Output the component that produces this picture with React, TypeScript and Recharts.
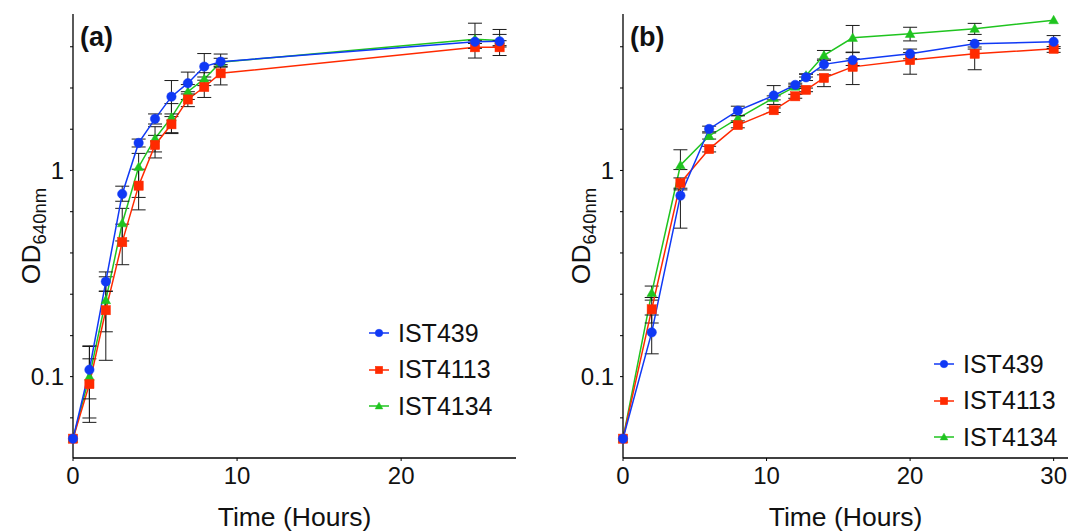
import React from 'react';
import { LineChart, Line, XAxis, YAxis, ErrorBar, Legend } from 'recharts';

const FONT = '"Liberation Sans", Arial, Helvetica, sans-serif';
const BLUE = '#1039f5';
const RED = '#ff2a00';
const GREEN = '#1fc41f';

// ---------- Panel (a) ----------
const timesA = [0, 1, 2, 3, 4, 5, 6, 7, 8, 9, 24.5, 26];
const ist439A = [0.05, 0.108, 0.289, 0.769, 1.36, 1.78, 2.28, 2.65, 3.19, 3.37, 4.21, 4.23];
const ist4113A = [0.05, 0.092, 0.21, 0.449, 0.844, 1.33, 1.675, 2.21, 2.54, 2.96, 3.96, 3.96];
const ist4134A = [0.05, 0.1, 0.235, 0.555, 1.04, 1.43, 1.81, 2.41, 2.78, 3.35, 4.33, 4.27];
const ist439ErrA: ([number, number] | null)[] = [null, [0.03, 0.033], [0.03, 0.033], [0.06, 0.07], [0.06, 0.06], [0.1, 0.1], [0.4, 0.45], [0.3, 0.35], [0.45, 0.5], [0.2, 0.3], [0.3, 0.35], [0.2, 0.6]];
const ist4113ErrA: ([number, number] | null)[] = [null, [0.029, 0.03], [0.09, 0.05], [0.1, 0.1], [0.2, 0.17], [0.18, 0.15], [0.15, 0.15], [0.17, 0.2], [0.28, 0.3], [0.36, 0.3], [0.45, 0.3], [0.35, 0.3]];
const ist4134ErrA: ([number, number] | null)[] = [null, [0.04, 0.04], [0.07, 0.07], [0.1, 0.1], [0.3, 0.17], [0.2, 0.2], [0.3, 0.3], [0.2, 0.2], [0.2, 0.2], [0.15, 0.15], [0.2, 0.85], [0.3, 0.3]];

// ---------- Panel (b) ----------
const timesB = [0, 2, 4, 6, 8, 10.5, 12, 12.75, 14, 16, 20, 24.5, 30];
const ist439B = [0.05, 0.164, 0.755, 1.59, 1.95, 2.31, 2.6, 2.83, 3.27, 3.43, 3.68, 4.12, 4.21];
const ist4113B = [0.05, 0.212, 0.87, 1.27, 1.66, 1.96, 2.29, 2.46, 2.81, 3.18, 3.43, 3.68, 3.89];
const ist4134B = [0.05, 0.255, 1.06, 1.47, 1.79, 2.25, 2.55, 2.89, 3.62, 4.4, 4.6, 4.87, 5.36];
const ist439ErrB: ([number, number] | null)[] = [null, [0.035, 0.035], [0.23, 0.05], [0.05, 0.05], [0.1, 0.1], [0.22, 0.27], [0.05, 0.05], [0.1, 0.1], [0.2, 0.2], [0.2, 0.3], [0.2, 0.2], [0.15, 0.15], [0.3, 0.3]];
const ist4113ErrB: ([number, number] | null)[] = [null, [0.03, 0.03], [0.05, 0.05], [0.04, 0.04], [0.05, 0.05], [0.05, 0.05], [0.05, 0.05], [0.05, 0.05], [0.26, 0.1], [0.57, 0.3], [0.5, 0.3], [0.6, 0.2], [0.15, 0.1]];
const ist4134ErrB: ([number, number] | null)[] = [null, [0.02, 0.02], [0.05, 0.2], [0.05, 0.05], [0.05, 0.05], [0.05, 0.05], [0.05, 0.05], [0.05, 0.05], [0.2, 0.2], [0.65, 0.65], [0.35, 0.35], [0.3, 0.3], null];

// ---------- Axes ----------
const yTicks = [0.0631, 0.1, 0.158, 0.251, 0.398, 0.631, 1, 1.585, 2.512, 3.981];
const yLabels: Record<string, string> = { '0.1': '0.1', '1': '1' };
const yDomain: [number, number] = [0.0403, 5.74];
const xTicksA = [0, 10, 20];
const xTicksB = [0, 10, 20, 30];
const xDomainA: [number, number] = [0, 27];
const xDomainB: [number, number] = [0, 31];

const SERIES = [
  { key: 'ist439', name: 'IST439', color: BLUE, shape: 'circle' },
  { key: 'ist4113', name: 'IST4113', color: RED, shape: 'square' },
  { key: 'ist4134', name: 'IST4134', color: GREEN, shape: 'triangle' },
];

function buildRows(times: number[], a: number[], b: number[], c: number[], ea: any[], eb: any[], ec: any[]) {
  return times.map((t, i) => ({
    t,
    ist439: a[i],
    ist4113: b[i],
    ist4134: c[i],
    ist439Err: ea[i] ?? undefined,
    ist4113Err: eb[i] ?? undefined,
    ist4134Err: ec[i] ?? undefined,
  }));
}

const rowsA = buildRows(timesA, ist439A, ist4113A, ist4134A, ist439ErrA, ist4113ErrA, ist4134ErrA);
const rowsB = buildRows(timesB, ist439B, ist4113B, ist4134B, ist439ErrB, ist4113ErrB, ist4134ErrB);

function marker(shape: string, cx: number, cy: number, color: string, k: string | number, s = 1) {
  if (shape === 'circle') {
    return <circle key={k} cx={cx} cy={cy} r={4.7 * s} fill={color} stroke={color} strokeWidth={0.5} />;
  }
  if (shape === 'square') {
    const h = 4.6 * s;
    return <rect key={k} x={cx - h} y={cy - h} width={2 * h} height={2 * h} fill={color} stroke={color} strokeWidth={0.5} />;
  }
  const r = 4.8 * s;
  return (
    <polygon
      key={k}
      points={`${cx},${cy - r} ${cx - r},${cy + r * 0.75} ${cx + r},${cy + r * 0.75}`}
      fill={color}
      stroke={color}
      strokeWidth={0.5}
    />
  );
}

const makeDot = (shape: string, color: string) => (props: any) => {
  const { cx, cy, index } = props;
  if (cx == null || cy == null || isNaN(cx) || isNaN(cy)) return <g key={`d${index}`} />;
  return marker(shape, cx, cy, color, `d${index}`);
};

const LegendBox = () => (
  <div style={{ fontFamily: FONT, fontSize: 25, color: '#111' }}>
    {SERIES.map((s) => (
      <div key={s.key} style={{ display: 'flex', alignItems: 'center', height: 36.5 }}>
        <svg width={22} height={14} style={{ overflow: 'visible' }}>
          <line x1={1} y1={7} x2={21} y2={7} stroke={s.color} strokeWidth={1.5} />
          {marker(s.shape, 11, 7, s.color, 'm', 0.8)}
        </svg>
        <span style={{ marginLeft: 8 }}>{s.name}</span>
      </div>
    ))}
  </div>
);

const XTitle = (props: any) => {
  const vb = props.viewBox || { x: 73, y: 458, width: 443, height: 73 };
  return (
    <text x={vb.x + vb.width / 2} y={vb.y + 68} textAnchor="middle" fontFamily={FONT} fontSize={26.5} fill="#111">
      Time (Hours)
    </text>
  );
};

const YTitle = (props: any) => {
  const vb = props.viewBox || { x: 0, y: 14, width: 73, height: 444 };
  const x = vb.x + 40;
  const y = vb.y + vb.height / 2;
  return (
    <text x={x} y={y} transform={`rotate(-90 ${x} ${y})`} textAnchor="middle" fontFamily={FONT} fontSize={26.5} fill="#111">
      OD
      <tspan fontSize={18.5} dy={6}>640nm</tspan>
    </text>
  );
};

function Panel(props: {
  rows: any[];
  xDomain: [number, number];
  xTicks: number[];
  width: number;
  right: number;
  legendLeft: number;
  legendTop: number;
}) {
  const { rows, xDomain, xTicks, width, right, legendLeft, legendTop } = props;
  const tickStyle = { fontFamily: FONT, fontSize: 24, fill: '#111' };
  const drawOrder = [SERIES[2], SERIES[1], SERIES[0]];
  return (
    <LineChart width={width} height={531} data={rows} margin={{ top: 14, right, bottom: 0, left: 0 }}>
      <XAxis
        dataKey="t"
        type="number"
        domain={xDomain}
        ticks={xTicks}
        interval={0}
        height={73}
        tick={tickStyle}
        tickSize={3}
        tickMargin={6}
        axisLine={{ stroke: '#000', strokeWidth: 1.3 }}
        tickLine={{ stroke: '#000' }}
        label={{ content: XTitle } as any}
      />
      <XAxis
        xAxisId="top"
        orientation="top"
        dataKey="t"
        type="number"
        domain={xDomain}
        height={0}
        tick={false}
        tickLine={false}
        axisLine={{ stroke: '#7a7a7a', strokeWidth: 1.5 }}
      />
      <YAxis
        scale="log"
        type="number"
        domain={yDomain}
        ticks={yTicks}
        interval={0}
        width={73}
        tick={tickStyle}
        tickFormatter={(v: number) => yLabels[String(v)] ?? ''}
        tickSize={3}
        tickMargin={6}
        axisLine={{ stroke: '#000', strokeWidth: 1.3 }}
        tickLine={{ stroke: '#000' }}
        label={{ content: YTitle } as any}
      />
      <YAxis
        yAxisId="right"
        orientation="right"
        scale="log"
        type="number"
        domain={yDomain}
        width={0}
        tick={false}
        tickLine={false}
        axisLine={{ stroke: '#7a7a7a', strokeWidth: 1.5 }}
      />
      {drawOrder.map((s) => (
        <Line
          key={s.key}
          dataKey={s.key}
          name={s.name}
          type="linear"
          stroke={s.color}
          strokeWidth={1.5}
          dot={makeDot(s.shape, s.color)}
          activeDot={false}
          isAnimationActive={false}
        >
          <ErrorBar dataKey={`${s.key}Err`} direction="y" width={7} stroke="#1a1a1a" strokeWidth={1} isAnimationActive={false} />
        </Line>
      ))}
      <Legend
        layout="vertical"
        align="center"
        verticalAlign="middle"
        content={() => <LegendBox />}
        wrapperStyle={{ left: legendLeft, top: legendTop, width: 'auto', height: 'auto' }}
      />
    </LineChart>
  );
}

export default function App() {
  return (
    <div style={{ position: 'absolute', left: 0, top: 0, width: 1083, height: 531, background: '#fff', fontFamily: FONT }}>
      <div style={{ position: 'absolute', left: 0, top: 0 }}>
        <Panel rows={rowsA} xDomain={xDomainA} xTicks={xTicksA} width={540} right={24} legendLeft={368} legendTop={315} />
      </div>
      <div style={{ position: 'absolute', left: 550, top: 0 }}>
        <Panel rows={rowsB} xDomain={xDomainB} xTicks={xTicksB} width={533} right={15} legendLeft={383} legendTop={346} />
      </div>
      <div style={{ position: 'absolute', left: 80, top: 24, fontSize: 27, lineHeight: '27px', fontWeight: 'bold', color: '#111' }}>(a)</div>
      <div style={{ position: 'absolute', left: 630, top: 24, fontSize: 27, lineHeight: '27px', fontWeight: 'bold', color: '#111' }}>(b)</div>
    </div>
  );
}
